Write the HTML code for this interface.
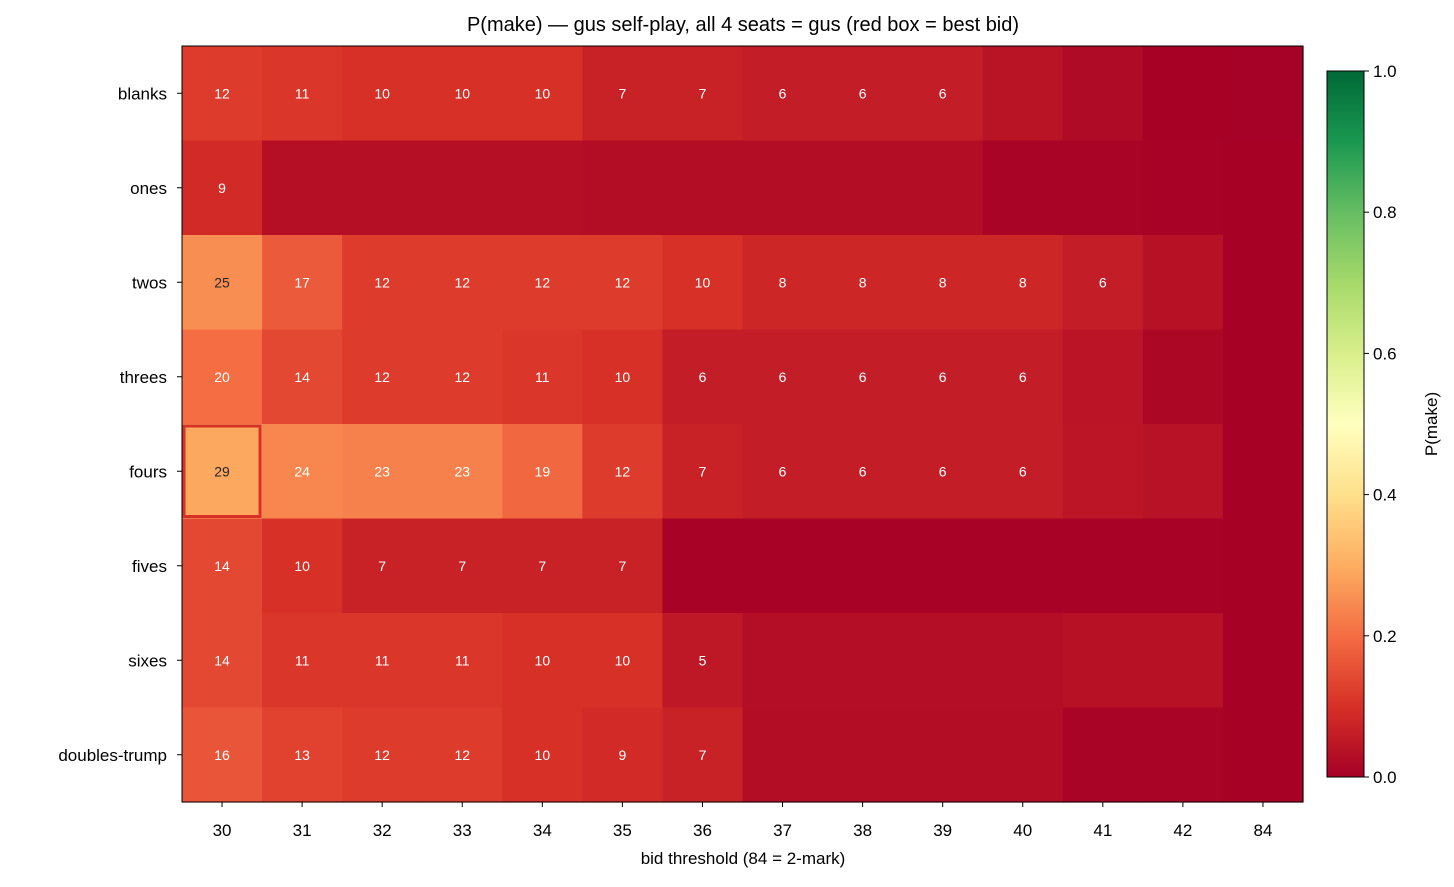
<!DOCTYPE html>
<html><head><meta charset="utf-8"><style>
body{margin:0;background:#fff;}
svg text{font-family:"Liberation Sans","DejaVu Sans",sans-serif;}
</style></head><body>
<svg id="s" width="1454" height="882" xmlns="http://www.w3.org/2000/svg">
<defs><linearGradient id="cb" x1="0" y1="1" x2="0" y2="0">
<stop offset="0" stop-color="#a50026"/><stop offset="0.1" stop-color="#d73027"/><stop offset="0.2" stop-color="#f46d43"/><stop offset="0.3" stop-color="#fdae61"/><stop offset="0.4" stop-color="#fee08b"/><stop offset="0.5" stop-color="#ffffbf"/><stop offset="0.6" stop-color="#d9ef8b"/><stop offset="0.7" stop-color="#a6d96a"/><stop offset="0.8" stop-color="#66bd63"/><stop offset="0.9" stop-color="#1a9850"/><stop offset="1" stop-color="#006837"/></linearGradient></defs>
<g id="g"></g>
<text x="743" y="31" font-size="20" text-anchor="middle">P(make) — gus self-play, all 4 seats = gus  (red box = best bid)</text>
<text x="743" y="864" font-size="17" text-anchor="middle">bid threshold (84 = 2-mark)</text>
<rect x="1327" y="71" width="37" height="706" fill="url(#cb)" stroke="#000" stroke-width="1"/>
<text transform="translate(1437,424) rotate(-90)" font-size="17" text-anchor="middle">P(make)</text>
</svg>
<script>
const stops=[[165,0,38],[215,48,39],[244,109,67],[253,174,97],[254,224,139],[255,255,191]];
function col(v){let t=v*10;let i=Math.min(4,Math.floor(t));let f=t-i;let a=stops[i],b=stops[i+1];return `rgb(${a.map((x,k)=>Math.round(x+(b[k]-x)*f)).join(',')})`;}
const rows=["blanks","ones","twos","threes","fours","fives","sixes","doubles-trump"];
const cols=["30","31","32","33","34","35","36","37","38","39","40","41","42","84"];
const L=[
[12,11,10,10,10,7,7,6,6,6,-4,-2,-0.3,-0.2],
[9,-3.2,-3.2,-3.2,-3.2,-2.8,-2.8,-2.8,-2.8,-2.8,-0.8,-0.8,-0.5,-0.3],
[25,17,12,12,12,12,10,8,8,8,8,6,-3.5,-0.3],
[20,14,12,12,11,10,6,6,6,6,6,-4.2,-1.5,-0.3],
[29,24,23,23,19,12,7,6,6,6,6,-4.5,-3.8,-0.3],
[14,10,7,7,7,7,-0.5,-0.5,-0.5,-0.5,-0.5,-0.5,-0.5,-0.3],
[14,11,11,11,10,10,5,-3,-3,-3,-3,-3.5,-3.5,-0.3],
[16,13,12,12,10,9,7,-2.8,-2.8,-2.8,-2.8,-0.8,-0.8,-0.3]];
const x0=182,y0=46,cw=1121/14,rh=756/8;
let h='';
L.forEach((r,i)=>r.forEach((v,j)=>{
 const val=Math.abs(v)/100;
 const x=x0+j*cw,y=y0+i*rh;
 h+=`<rect x="${x}" y="${y}" width="${cw+0.6}" height="${rh+0.6}" fill="${col(val)}"/>`;
 if(v>0)h+=`<text x="${x+cw/2}" y="${y+rh/2+5}" font-size="14" text-anchor="middle" fill="${v>=25?'#262626':'#fff'}">${v}</text>`;
}));
h+=`<rect x="${x0+2}" y="${y0+4*rh+2}" width="${cw-4}" height="${rh-4}" fill="none" stroke="#d73027" stroke-width="3"/>`;
h+=`<rect x="${x0}" y="${y0}" width="1121" height="756" fill="none" stroke="#000" stroke-width="1"/>`;
rows.forEach((r,i)=>{const y=y0+i*rh+rh/2;h+=`<line x1="${x0-5}" x2="${x0}" y1="${y}" y2="${y}" stroke="#000"/><text x="${x0-15}" y="${y+6}" font-size="17" text-anchor="end">${r}</text>`;});
cols.forEach((c,j)=>{const x=x0+j*cw+cw/2;h+=`<line x1="${x}" x2="${x}" y1="802" y2="807" stroke="#000"/><text x="${x}" y="836" font-size="17" text-anchor="middle">${c}</text>`;});
for(let k=0;k<=5;k++){const y=777-k*706/5;h+=`<line x1="1364" x2="1369" y1="${y}" y2="${y}" stroke="#000"/><text x="1373" y="${y+6}" font-size="17">${(k/5).toFixed(1)}</text>`;}
document.getElementById('g').innerHTML=h;
</script>
</body></html>
